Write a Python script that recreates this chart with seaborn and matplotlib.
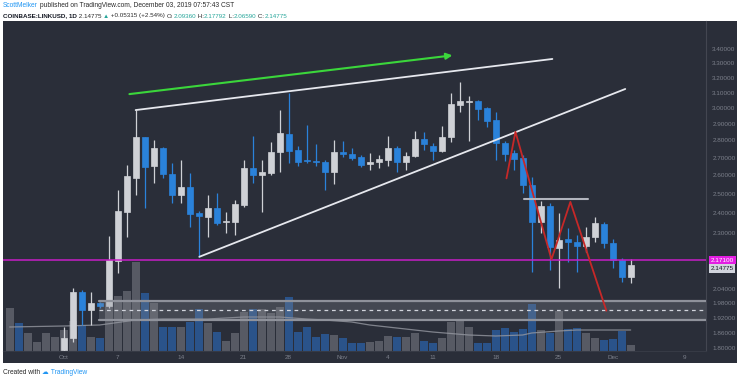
import matplotlib
matplotlib.use("Agg")
import numpy as np
import matplotlib.pyplot as plt
import seaborn as sns
from matplotlib.patches import Rectangle
from matplotlib.text import Annotation
from matplotlib.ticker import FixedLocator, FormatStrFormatter, NullLocator

# daily candles, day 0 = 2019-10-01
days = list(range(0, 64))
opens = [1.793, 1.838, 2.030, 1.952, 1.980, 1.969, 2.166, 2.406, 2.583, 2.818,
         2.651, 2.754, 2.607, 2.493, 2.534, 2.398, 2.378, 2.427, 2.352, 2.355,
         2.441, 2.638, 2.604, 2.610, 2.730, 2.838, 2.743, 2.684, 2.680, 2.674,
         2.617, 2.733, 2.718, 2.705, 2.662, 2.674, 2.686, 2.754, 2.676, 2.710,
         2.808, 2.768, 2.739, 2.822, 3.019, 3.038, 3.047, 2.998, 2.922, 2.783,
         2.727, 2.696, 2.546, 2.355, 2.433, 2.226, 2.268, 2.254, 2.237, 2.281,
         2.344, 2.251, 2.171, 2.0936]
highs = [1.882, 2.044, 2.037, 2.030, 1.985, 2.285, 2.520, 2.657, 2.987, 2.820,
         2.802, 2.760, 2.669, 2.686, 2.614, 2.410, 2.493, 2.506, 2.406, 2.467,
         2.686, 2.826, 2.686, 2.792, 2.987, 3.095, 2.770, 2.893, 2.778, 2.686,
         2.802, 2.798, 2.753, 2.714, 2.726, 2.714, 2.826, 2.770, 2.733, 2.858,
         2.852, 2.784, 2.887, 3.095, 3.173, 3.077, 3.050, 3.005, 2.976, 2.797,
         2.743, 2.714, 2.591, 2.463, 2.449, 2.398, 2.322, 2.290, 2.330, 2.381,
         2.354, 2.268, 2.180, 2.17792]
lows = [1.785, 1.825, 1.891, 1.891, 1.960, 1.960, 2.111, 2.281, 2.494, 2.425,
        2.557, 2.584, 2.451, 2.451, 2.330, 2.186, 2.281, 2.339, 2.298, 2.290,
        2.432, 2.555, 2.406, 2.600, 2.620, 2.667, 2.653, 2.667, 2.653, 2.520,
        2.551, 2.705, 2.686, 2.649, 2.629, 2.638, 2.653, 2.620, 2.629, 2.703,
        2.743, 2.686, 2.730, 2.792, 2.976, 2.796, 2.924, 2.883, 2.686, 2.682,
        2.629, 2.504, 2.118, 2.298, 2.125, 2.044, 2.163, 2.118, 2.210, 2.258,
        2.226, 2.133, 2.072, 2.0659]
closes = [1.838, 2.030, 1.952, 1.980, 1.969, 2.171, 2.410, 2.597, 2.818, 2.647,
          2.754, 2.607, 2.493, 2.534, 2.393, 2.384, 2.427, 2.350, 2.359, 2.446,
          2.638, 2.600, 2.617, 2.733, 2.843, 2.740, 2.676, 2.680, 2.676, 2.617,
          2.733, 2.718, 2.700, 2.658, 2.676, 2.690, 2.757, 2.672, 2.710, 2.808,
          2.778, 2.739, 2.822, 3.023, 3.047, 3.045, 2.991, 2.920, 2.783, 2.720,
          2.694, 2.546, 2.355, 2.433, 2.234, 2.264, 2.256, 2.237, 2.281, 2.350,
          2.251, 2.171, 2.096, 2.14775]

# volume (millions), starting 6 days before Oct 1 (those candles sit below the view)
vol_days = list(range(-6, 64))
volumes = [4.33, 2.83, 1.8, 0.93, 1.8, 1.43,
           2.1, 3.0, 2.6, 1.43, 1.3, 5.0, 5.5, 6.0, 8.9, 5.83,
           4.8, 2.4, 2.4, 2.4, 2.9, 4.2, 2.8, 1.9, 1.0, 1.8,
           3.9, 4.2, 4.2, 3.8, 4.4, 5.4, 1.9, 2.4, 1.4, 1.7,
           1.6, 1.3, 0.8, 0.8, 0.93, 1.03, 1.5, 1.43, 1.43, 1.83,
           1.03, 0.8, 1.3, 2.9, 3.0, 2.43, 0.83, 0.83, 2.1, 2.3,
           1.93, 2.2, 4.7, 2.1, 1.83, 4.03, 2.2, 2.3, 1.8, 1.3,
           1.1, 1.2, 2.03, 0.6]
pre_vol_up = [True, False, True, True, True, True]

# volume moving average
ma_days = [-6, 0, 4, 8, 11, 16, 20, 24, 27, 29, 32, 34, 37, 41, 45, 48, 51, 52, 55, 57, 60, 63]
ma_vals = [2.4, 2.5, 2.6, 3.1, 3.2, 3.2, 3.4, 3.4, 3.2, 3.1, 2.9, 2.6, 2.3, 1.9, 1.6, 1.5,
           1.6, 1.8, 2.0, 2.1, 2.1, 2.1]

# drawings
arrow_x = [7.0, 43.5]
arrow_y = [3.088, 3.358]
wedge_top_x = [8.0, 54.3]
wedge_top_y = [2.987, 3.330]
wedge_bot_x = [15.07, 62.4]
wedge_bot_y = [2.186, 3.124]
zigzag_x = [49.2, 50.2, 54.2, 56.3, 60.3]
zigzag_y = [2.583, 2.852, 2.174, 2.457, 1.949]
shelf_x = [51.2, 58.3]
shelf_y = 2.471
level = 2.171
zone_start = 3.96
zone_low, zone_mid, zone_high = 1.913, 1.951, 1.990

price_ticks = [3.4, 3.3, 3.2, 3.1, 3.0, 2.9, 2.8, 2.7, 2.6, 2.5, 2.4, 2.3,
               2.04, 1.98, 1.92, 1.86, 1.80]
tick_days = [0, 6, 13, 20, 25, 31, 36, 41, 48, 55, 61, 69]
tick_labels = ["Oct", "7", "14", "21", "28", "Nov", "4", "11", "18", "25", "Dec", "9"]

BG = "#2a2e39"
UP = "#cfd1d6"
DN = "#2a82da"
VOL_UP = "#575a64"
VOL_DN = "#2a538a"
AXIS_TXT = "#7c808b"
GREEN = "#26a69a"
MAGENTA = "#e31de3"

sns.set_theme(style="dark", rc={"axes.facecolor": BG, "figure.facecolor": "white"})
plt.rcParams["font.family"] = ["Liberation Sans", "DejaVu Sans"]

W, H = 740, 381
fig = plt.figure(figsize=(7.4, 3.81), dpi=100)


def fx(px):
    return px / W


def fy(py):
    return 1 - py / H


fig.add_artist(Rectangle((fx(3), fy(363)), fx(737) - fx(3), fy(20.5) - fy(363),
                         transform=fig.transFigure, fc=BG, ec="none", zorder=0))

rect = [fx(3), fy(351), fx(706) - fx(3), fy(20.5) - fy(351)]
xlim = (-6.74, 71.37)

# volume pane (underneath)
ax_vol = fig.add_axes(rect)
vol_up = pre_vol_up + [c >= o for o, c in zip(opens, closes)]
ax_vol.bar(vol_days, volumes, width=0.88,
           color=[VOL_UP if u else VOL_DN for u in vol_up], linewidth=0)
sns.lineplot(x=ma_days, y=ma_vals, ax=ax_vol, color="#9598a1", lw=0.9, alpha=0.8)
ax_vol.set_xlim(*xlim)
ax_vol.set_ylim(0, 33.05)
ax_vol.axis("off")

# price pane
ax = fig.add_axes(rect)
ax.patch.set_alpha(0)
o = np.array(opens)
c = np.array(closes)
colors = np.where(c >= o, UP, DN)
ax.vlines(days, lows, highs, colors=colors, lw=0.9, zorder=3)
ax.bar(days, np.abs(c - o), bottom=np.minimum(o, c), width=0.68,
       color=colors, edgecolor=colors, linewidth=0.5, zorder=4)

ax.set_yscale("log")
ax.set_xlim(*xlim)
ax.set_ylim(1.789, 3.614)

# consolidation zone
ax.add_patch(Rectangle((zone_start, zone_low), xlim[1] - zone_start, zone_high - zone_low,
                       fc="#8a8d96", alpha=0.28, ec="none", zorder=5))
ax.plot([zone_start, xlim[1]], [zone_high, zone_high], color="#8f929b", lw=1.6, zorder=5)
ax.plot([zone_start, xlim[1]], [zone_low, zone_low], color="#8f929b", lw=1.6, zorder=5)
ax.plot([zone_start, xlim[1]], [zone_mid, zone_mid], color="#d1d4dc", lw=0.9,
        dashes=(3, 3), zorder=5)

ax.axhline(level, color="#c71ec7", lw=1.1, zorder=5)
ax.plot(wedge_top_x, wedge_top_y, color="#e6e8ee", lw=1.3, zorder=6)
ax.plot(wedge_bot_x, wedge_bot_y, color="#e6e8ee", lw=1.3, zorder=6)
ax.plot(zigzag_x, zigzag_y, color="#c62828", lw=1.3, zorder=6)
ax.plot(shelf_x, [shelf_y, shelf_y], color="#b2b5be", lw=1.5, zorder=6)
ax.annotate("", xy=(arrow_x[1], arrow_y[1]), xytext=(arrow_x[0], arrow_y[0]),
            arrowprops=dict(arrowstyle="-|>", color="#3bd63b", lw=1.5, mutation_scale=9),
            zorder=6)

ax.yaxis.set_major_locator(FixedLocator(price_ticks))
ax.yaxis.set_major_formatter(FormatStrFormatter("%.5f"))
ax.yaxis.set_minor_locator(NullLocator())
ax.yaxis.tick_right()
ax.tick_params(axis="y", length=0, pad=4.5, labelsize=4.6, labelcolor=AXIS_TXT)
ax.set_xticks(tick_days, tick_labels)
ax.tick_params(axis="x", length=0, pad=3, labelsize=4.6, labelcolor=AXIS_TXT)
ax.grid(False)
ax.spines["top"].set_visible(False)
ax.spines["left"].set_visible(False)
ax.spines["right"].set_color("#434651")
ax.spines["bottom"].set_color("#363a45")
ax.spines["right"].set_linewidth(0.8)
ax.spines["bottom"].set_linewidth(0.8)

ax.annotate(f"{level:.5f}", xy=(1, level), xycoords=ax.get_yaxis_transform(),
            xytext=(3.2, 0), textcoords="offset points", va="center", ha="left",
            fontsize=4.6, color="white", annotation_clip=False,
            bbox=dict(boxstyle="square,pad=0.3", fc=MAGENTA, ec="none"))
ax.annotate(f"{closes[-1]:.5f}", xy=(1, closes[-1]), xycoords=ax.get_yaxis_transform(),
            xytext=(3.2, -2.6), textcoords="offset points", va="center", ha="left",
            fontsize=4.6, color="#131722", annotation_clip=False,
            bbox=dict(boxstyle="square,pad=0.3", fc="#d1d4dc", ec="none"))


def text_run(x_px, y_px, parts, size):
    prev = None
    for s, color, weight in parts:
        if prev is None:
            prev = fig.text(fx(x_px), fy(y_px), s, color=color, fontsize=size,
                            fontweight=weight, va="bottom", ha="left")
        else:
            ann = Annotation(s, xy=(1, 0), xycoords=prev, va="bottom", ha="left",
                             color=color, fontsize=size, fontweight=weight)
            fig.add_artist(ann)
            prev = ann


DARK = "#2a2a2a"
text_run(3, 9, [("ScottMelker", "#2196f3", "normal"),
                (" published on TradingView.com, December 03, 2019 07:57:43 CST", DARK, "normal")], 4.8)
text_run(3, 18.5, [("COINBASE:LINKUSD, 1D", "#131722", "bold"),
                   (" 2.14775 ", DARK, "normal"), ("▲", GREEN, "normal"),
                   (" +0.05315 (+2.54%) ", DARK, "normal"),
                   ("O:", DARK, "normal"), ("2.09360", GREEN, "normal"),
                   (" H:", DARK, "normal"), ("2.17792", GREEN, "normal"),
                   (" L:", DARK, "normal"), ("2.06590", GREEN, "normal"),
                   (" C:", DARK, "normal"), ("2.14775", GREEN, "normal")], 4.5)
text_run(3, 376, [("Created with ", DARK, "normal"),
                  ("☁", "#2196f3", "normal"),
                  (" TradingView", "#2196f3", "normal")], 4.8)

fig.savefig("out.png", dpi=100, facecolor="white")
